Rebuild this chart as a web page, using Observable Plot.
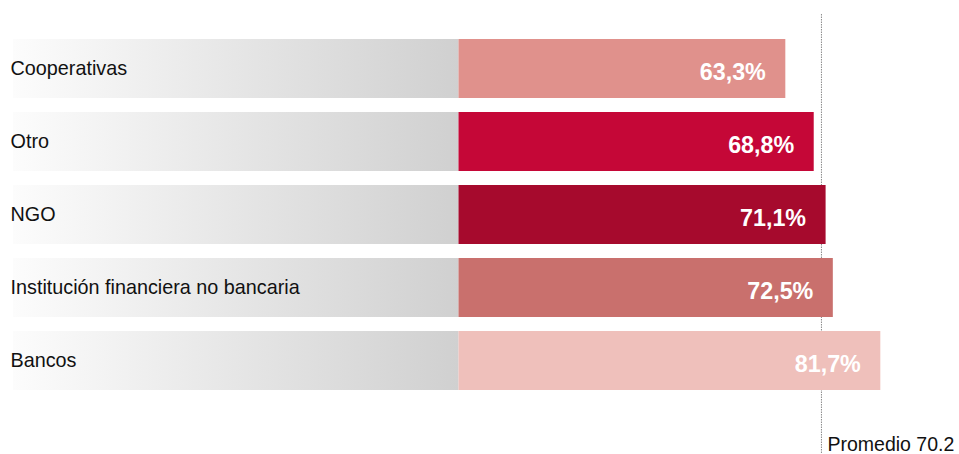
<!DOCTYPE html>
<html>
<head>
<meta charset="utf-8">
<script src="https://cdn.jsdelivr.net/npm/d3@7"></script>
<script src="https://cdn.jsdelivr.net/npm/@observablehq/plot@0.6"></script>
<style>
  html, body { margin: 0; padding: 0; background: #fff; }
  svg { display: block; }
</style>
</head>
<body>
<div id="chart"></div>
<script>
const categories = ["Cooperativas", "Otro", "NGO", "Institución financiera no bancaria", "Bancos"];
const values = [63.3, 68.8, 71.1, 72.5, 81.7];
const colors = ["#e0918c", "#c50737", "#a60a2d", "#c9706d", "#efc0bb"];
const averageValue = 70.2;
const averageLabel = "Promedio";

const data = categories.map((c, i) => ({cat: c, value: values[i]}));
const fmt = v => d3.format(".1f")(v).replace(".", ",") + "%";
const font = "'Liberation Sans', Arial, Helvetica, sans-serif";

const plot = Plot.plot({
  width: 959,
  height: 454,
  marginLeft: 458.5,
  marginRight: 0,
  marginTop: 23,
  marginBottom: 48,
  style: {fontFamily: font, background: "#fff"},
  x: {domain: [0, 96.94], axis: null},
  y: {domain: categories, padding: 0.193, axis: null},
  color: {domain: categories, range: colors},
  marks: [
    Plot.ruleX([averageValue], {
      stroke: "#8a8a8a", strokeWidth: 1, strokeDasharray: "1.5,1",
      insetTop: -9, insetBottom: -48
    }),
    Plot.barX(data, {
      x1: 0, x2: 0, y: "cat", fill: "url(#labelGrad)", insetLeft: -445.5
    }),
    Plot.barX(data, {x: "value", y: "cat", fill: "cat"}),
    Plot.text(data, {
      y: "cat", text: "cat", frameAnchor: "left", textAnchor: "start",
      dx: -448.5, fontSize: 19.8, fill: "#111"
    }),
    Plot.text(data, {
      x: "value", y: "cat", text: d => fmt(d.value), textAnchor: "end",
      dx: -20, dy: 4, fontSize: 23.3, fontWeight: "bold", fill: "#fff"
    }),
    Plot.text([averageValue], {
      x: d => d, text: d => `${averageLabel} ${d}`, frameAnchor: "bottom",
      textAnchor: "start", lineAnchor: "bottom", dx: 6, dy: 44,
      fontSize: 19.5, fill: "#111"
    })
  ]
});

const svg = d3.select(plot);
const defs = svg.insert("defs", ":first-child");
const grad = defs.append("linearGradient").attr("id", "labelGrad")
  .attr("x1", "0").attr("x2", "1").attr("y1", "0").attr("y2", "0");
grad.append("stop").attr("offset", "0").attr("stop-color", "#fcfcfc");
grad.append("stop").attr("offset", "1").attr("stop-color", "#d0d0d0");

document.getElementById("chart").appendChild(plot);
</script>
</body>
</html>
